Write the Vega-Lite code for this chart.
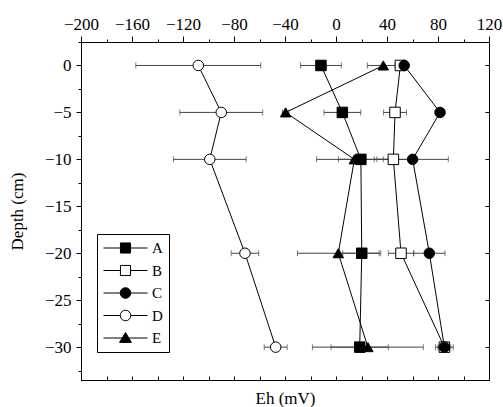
{
  "$schema": "https://vega.github.io/schema/vega-lite/v6.json",
  "width": 408,
  "height": 338,
  "autosize": {"type": "none"},
  "padding": {"left": 81, "top": 42, "right": 14, "bottom": 27},
  "config": {
    "font": "Liberation Serif",
    "view": {"stroke": "black", "strokeWidth": 1},
    "axis": {
      "labelFont": "Liberation Serif", "labelFontSize": 17, "labelColor": "black",
      "titleFont": "Liberation Serif", "titleFontSize": 17, "titleFontWeight": "normal", "titleColor": "black",
      "tickColor": "black", "domainColor": "black", "grid": false, "tickWidth": 1, "domainWidth": 1,
      "labelOverlap": false, "labelFlush": false
    },
    "legend": {
      "labelFont": "Liberation Serif", "labelFontSize": 15, "labelColor": "black",
      "symbolStrokeColor": "black", "symbolStrokeWidth": 1
    }
  },
  "datasets": {
    "d": [
      {"s": "A", "depth": 0, "eh": -11.8, "lo": -27.8, "hi": 4.2},
      {"s": "A", "depth": -5, "eh": 5, "lo": -9.4, "hi": 19.4},
      {"s": "A", "depth": -10, "eh": 19.5, "lo": 1.9, "hi": 37.1},
      {"s": "A", "depth": -20, "eh": 20.2, "lo": 5.3, "hi": 35.1},
      {"s": "A", "depth": -30, "eh": 18.6, "lo": -3.9, "hi": 41.1},
      {"s": "B", "depth": 0, "eh": 50.5, "lo": 46.5, "hi": 54.5},
      {"s": "B", "depth": -5, "eh": 46.3, "lo": 37.3, "hi": 55.3},
      {"s": "B", "depth": -10, "eh": 45, "lo": 30, "hi": 60},
      {"s": "B", "depth": -20, "eh": 51, "lo": 41, "hi": 61},
      {"s": "B", "depth": -30, "eh": 85, "lo": 80, "hi": 90},
      {"s": "C", "depth": 0, "eh": 53.5, "lo": 50.5, "hi": 56.5},
      {"s": "C", "depth": -5, "eh": 81.6, "lo": 78.6, "hi": 84.6},
      {"s": "C", "depth": -10, "eh": 60.1, "lo": 32.1, "hi": 88.1},
      {"s": "C", "depth": -20, "eh": 73.2, "lo": 60.9, "hi": 85.5},
      {"s": "C", "depth": -30, "eh": 85, "lo": 78, "hi": 92},
      {"s": "D", "depth": 0, "eh": -108, "lo": -157, "hi": -59},
      {"s": "D", "depth": -5, "eh": -90, "lo": -122.5, "hi": -57.5},
      {"s": "D", "depth": -10, "eh": -99, "lo": -127.5, "hi": -70.5},
      {"s": "D", "depth": -20, "eh": -71.4, "lo": -82.2, "hi": -60.6},
      {"s": "D", "depth": -30, "eh": -47.3, "lo": -56.3, "hi": -38.3},
      {"s": "E", "depth": 0, "eh": 37.1, "lo": 24.6, "hi": 49.6},
      {"s": "E", "depth": -5, "eh": -39.5, "lo": -42, "hi": -37},
      {"s": "E", "depth": -10, "eh": 14.4, "lo": -15.2, "hi": 44},
      {"s": "E", "depth": -20, "eh": 1.8, "lo": -30.2, "hi": 33.8},
      {"s": "E", "depth": -30, "eh": 25, "lo": -18.5, "hi": 68.5}
    ],
    "leg": [
      {"s": "A", "eh": 0, "depth": 100},
      {"s": "B", "eh": 0, "depth": 100},
      {"s": "C", "eh": 0, "depth": 100},
      {"s": "D", "eh": 0, "depth": 100},
      {"s": "E", "eh": 0, "depth": 100}
    ]
  },
  "data": {"name": "d"},
  "layer": [
    {
      "mark": {"type": "rule", "color": "#444444", "strokeWidth": 1},
      "encoding": {
        "x": {"field": "lo", "type": "quantitative",
          "scale": {"domain": [-200, 120], "nice": false, "zero": false},
          "axis": {"orient": "top", "values": [-200, -160, -120, -80, -40, 0, 40, 80, 120], "tickSize": 6, "labelPadding": 3, "title": null}},
        "x2": {"field": "hi"},
        "y": {"field": "depth", "type": "quantitative",
          "scale": {"domain": [-33.5, 2.5], "nice": false, "zero": false},
          "axis": {"orient": "left", "values": [0, -5, -10, -15, -20, -25, -30], "tickSize": 5, "labelPadding": 5, "title": "Depth (cm)", "titlePadding": 18}}
      }
    },
    {
      "mark": {"type": "tick", "orient": "vertical", "size": 6, "thickness": 1, "color": "#444444"},
      "encoding": {
        "x": {"field": "lo", "type": "quantitative",
          "scale": {"domain": [-200, 120], "nice": false, "zero": false},
          "axis": {"orient": "top", "values": [-200, -180, -160, -140, -120, -100, -80, -60, -40, -20, 0, 20, 40, 60, 80, 100, 120], "tickSize": 3, "labels": false, "domain": false, "title": null}},
        "y": {"field": "depth", "type": "quantitative",
          "scale": {"domain": [-33.5, 2.5], "nice": false, "zero": false},
          "axis": {"orient": "left", "values": [2.5, 0, -2.5, -5, -7.5, -10, -12.5, -15, -17.5, -20, -22.5, -25, -27.5, -30, -32.5], "tickSize": 3, "labels": false, "domain": false, "title": null}}
      }
    },
    {
      "mark": {"type": "tick", "orient": "vertical", "size": 6, "thickness": 1, "color": "#444444"},
      "encoding": {
        "x": {"field": "hi", "type": "quantitative",
          "scale": {"domain": [-200, 120], "nice": false, "zero": false},
          "axis": {"orient": "bottom", "values": [-200, -180, -160, -140, -120, -100, -80, -60, -40, -20, 0, 20, 40, 60, 80, 100, 120], "tickSize": -4, "labels": false, "title": "Eh (mV)", "titlePadding": 10}},
        "y": {"field": "depth", "type": "quantitative",
          "scale": {"domain": [-33.5, 2.5], "nice": false, "zero": false},
          "axis": {"orient": "right", "values": [0, -5, -10, -15, -20, -25, -30], "tickSize": -4, "labels": false, "title": null}}
      }
    },
    {
      "mark": {"type": "line", "color": "black", "strokeWidth": 1},
      "encoding": {
        "x": {"field": "eh", "type": "quantitative", "scale": {"domain": [-200, 120], "nice": false, "zero": false}, "axis": null},
        "y": {"field": "depth", "type": "quantitative", "scale": {"domain": [-33.5, 2.5], "nice": false, "zero": false}, "axis": null},
        "detail": {"field": "s"},
        "order": {"field": "depth", "sort": "descending"}
      }
    },
    {
      "mark": {"type": "point", "filled": true, "stroke": "black", "strokeWidth": 1, "size": 110, "opacity": 1},
      "encoding": {
        "x": {"field": "eh", "type": "quantitative", "scale": {"domain": [-200, 120], "nice": false, "zero": false}, "axis": null},
        "y": {"field": "depth", "type": "quantitative", "scale": {"domain": [-33.5, 2.5], "nice": false, "zero": false}, "axis": null},
        "shape": {"field": "s", "type": "nominal", "scale": {"domain": ["A", "B", "C", "D", "E"], "range": ["square", "square", "circle", "circle", "triangle-up"]}, "legend": null},
        "fill": {"field": "s", "type": "nominal", "scale": {"domain": ["A", "B", "C", "D", "E"], "range": ["black", "white", "black", "white", "black"]}, "legend": null}
      }
    },
    {
      "data": {"name": "leg"},
      "mark": {"type": "point", "filled": true, "stroke": "black", "strokeWidth": 1, "size": 1936, "opacity": 1, "clip": true},
      "encoding": {
        "x": {"field": "eh", "type": "quantitative", "scale": {"domain": [-200, 120], "nice": false, "zero": false}, "axis": null},
        "y": {"field": "depth", "type": "quantitative", "scale": {"domain": [-33.5, 2.5], "nice": false, "zero": false}, "axis": null},
        "shape": {"field": "s", "type": "nominal",
          "scale": {"domain": ["A", "B", "C", "D", "E"], "range": [
            "M-1,0H-0.23M0.23,0H1M-0.23,-0.23H0.23V0.23H-0.23Z",
            "M-1,0H-0.23M0.23,0H1M-0.23,-0.23H0.23V0.23H-0.23Z",
            "M-1,0H-0.24M0.24,0H1M0.24,0C0.24,0.133,0.133,0.24,0,0.24C-0.133,0.24,-0.24,0.133,-0.24,0C-0.24,-0.133,-0.133,-0.24,0,-0.24C0.133,-0.24,0.24,-0.133,0.24,0Z",
            "M-1,0H-0.24M0.24,0H1M0.24,0C0.24,0.133,0.133,0.24,0,0.24C-0.133,0.24,-0.24,0.133,-0.24,0C-0.24,-0.133,-0.133,-0.24,0,-0.24C0.133,-0.24,0.24,-0.133,0.24,0Z",
            "M-1,0H-0.136M0.136,0H1M0,-0.25L0.27,0.2L-0.27,0.2Z"
          ]},
          "legend": {"orient": "none", "legendX": 16, "legendY": 192, "title": null, "direction": "vertical",
            "padding": 6, "strokeColor": "black", "fillColor": "white", "symbolSize": 1936, "clipHeight": 16, "rowPadding": 6.5,
            "labelOffset": 4, "symbolStrokeColor": "black", "symbolStrokeWidth": 1,
            "encoding": {"symbols": {"stroke": {"value": "black"}, "strokeWidth": {"value": 1}}}}},
        "fill": {"field": "s", "type": "nominal", "scale": {"domain": ["A", "B", "C", "D", "E"], "range": ["black", "white", "black", "white", "black"]},
          "legend": {"orient": "none", "legendX": 16, "legendY": 192, "title": null, "direction": "vertical",
            "padding": 6, "strokeColor": "black", "fillColor": "white", "symbolSize": 1936, "clipHeight": 16, "rowPadding": 6.5,
            "labelOffset": 4, "symbolStrokeColor": "black", "symbolStrokeWidth": 1,
            "encoding": {"symbols": {"stroke": {"value": "black"}, "strokeWidth": {"value": 1}}}}}
      }
    }
  ],
  "resolve": {
    "axis": {"x": "independent", "y": "independent"},
    "scale": {"shape": "independent", "fill": "independent"},
    "legend": {"shape": "independent", "fill": "independent"}
  }
}
